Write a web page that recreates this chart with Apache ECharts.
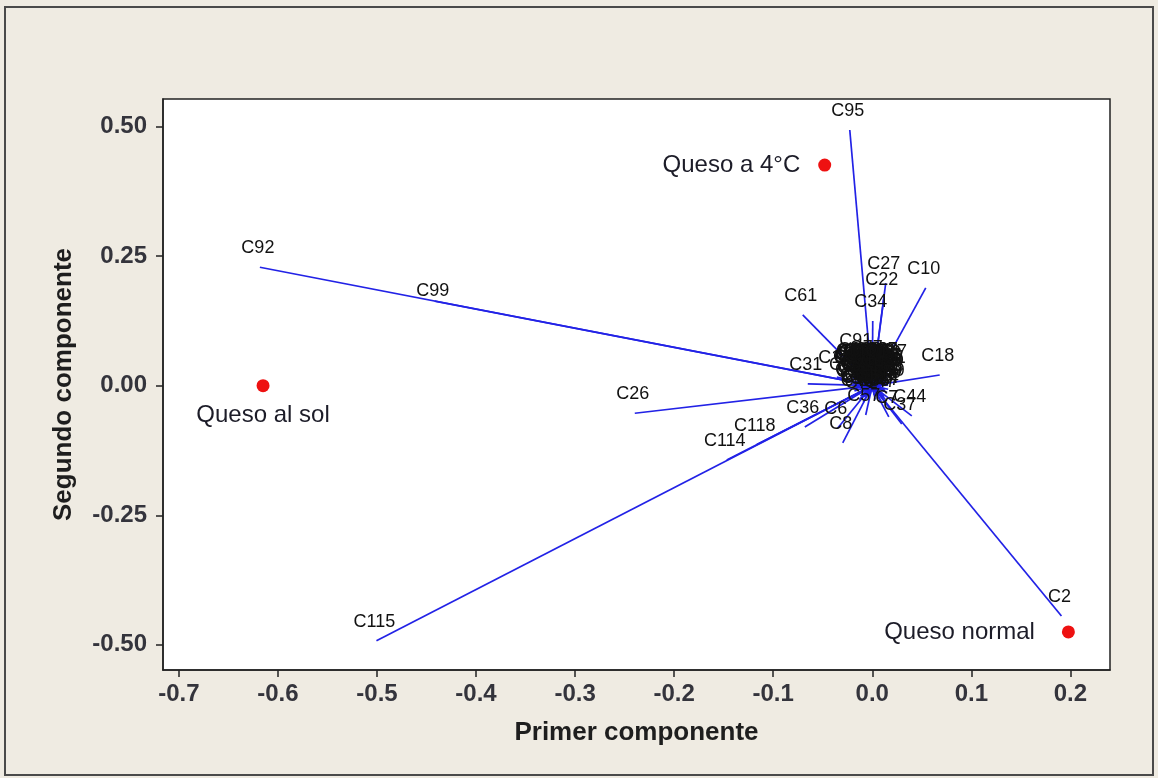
<!DOCTYPE html>
<html>
<head>
<meta charset="utf-8">
<script src="https://cdn.jsdelivr.net/npm/echarts@6/dist/echarts.min.js"></script>
<style>
  html, body { margin: 0; padding: 0; background: #efebe2; }
  #chart { width: 1158px; height: 778px; }
</style>
</head>
<body>
<div id="chart"></div>
<script>
// Loadings of each variable on the first (PC1) and second (PC2) component
const loadingNames = [
  'C95', 'C92', 'C99', 'C27', 'C22', 'C10', 'C34', 'C61', 'C18', 'C26',
  'C114', 'C118', 'C115', 'C36', 'C6', 'C8', 'C2', 'C31', 'C14', 'C91',
  'C57', 'C7', 'C37', 'C44',
  'C1', 'C3', 'C4', 'C5', 'C9', 'C11', 'C12', 'C13', 'C15', 'C16',
  'C17', 'C19', 'C20', 'C21', 'C23', 'C24', 'C25', 'C28', 'C29', 'C30',
  'C32', 'C33', 'C35', 'C38', 'C39', 'C40', 'C41', 'C42', 'C43', 'C45',
  'C46', 'C47', 'C48', 'C49', 'C50', 'C51', 'C52', 'C53', 'C54', 'C55',
  'C56', 'C58', 'C59', 'C60', 'C62', 'C63', 'C64', 'C65', 'C66', 'C67',
  'C68', 'C69', 'C70', 'C71', 'C72', 'C73', 'C74', 'C75', 'C76', 'C77',
  'C78', 'C79', 'C80', 'C81', 'C82', 'C83', 'C84', 'C85', 'C86', 'C87',
  'C88', 'C89', 'C90', 'C93', 'C94', 'C96', 'C97', 'C98', 'C100', 'C101',
  'C102', 'C103', 'C104', 'C105', 'C106', 'C107', 'C108', 'C109', 'C110', 'C111',
  'C112', 'C113', 'C116', 'C117', 'C119', 'C120'
];
const loadingPC1 = [
  -0.0227, -0.6182, -0.4417, 0.0136, 0.0116, 0.0540, 0.0005, -0.0702, 0.0681, -0.2397,
  -0.1469, -0.1166, -0.5005, -0.0681, -0.0348, -0.0298, 0.1910, -0.0651, -0.0358, -0.0146,
  -0.0066, 0.0167, 0.0298, 0.0399,
  -0.012, 0.004, -0.006, 0.010, -0.016, 0.002, 0.013, -0.009, 0.007, -0.019,
  0.015, -0.003, 0.009, -0.014, 0.001, 0.012, -0.008, 0.005, -0.017, 0.016,
  -0.004, 0.008, -0.011, 0.003, -0.020, 0.011, -0.006, 0.014, -0.013, 0.006,
  -0.002, 0.009, -0.018, 0.015, -0.007, 0.002, -0.015, 0.010, -0.010, 0.004,
  -0.001, 0.012, -0.016, 0.007, -0.005, 0.016, -0.012, 0.003, -0.008, 0.013,
  -0.003, 0.008, -0.019, 0.011, -0.009, 0.000, -0.014, 0.006, 0.014, -0.004,
  0.001, -0.011, 0.009, -0.017, 0.005, 0.012, -0.010, 0.006, -0.015, 0.011,
  -0.002, 0.015, -0.018, 0.003, -0.006, 0.009, -0.013, 0.007, -0.008, 0.014,
  -0.020, 0.001, -0.004, 0.010, -0.011, 0.005, -0.016, 0.013, -0.007, 0.002,
  -0.014, 0.008, -0.001, 0.016, -0.005, 0.012
];
const loadingPC2 = [
  0.4932, 0.2284, 0.1630, 0.1980, 0.1670, 0.1885, 0.1248, 0.1364, 0.0206, -0.0532,
  -0.1433, -0.1137, -0.4919, -0.0796, -0.0816, -0.1105, -0.4442, 0.0033, 0.0168, 0.0496,
  -0.0565, -0.0603, -0.0739, -0.0584,
  0.021, 0.012, -0.004, 0.028, 0.008, -0.018, 0.004, 0.030, -0.010, -0.006,
  0.019, 0.026, 0.015, -0.016, 0.033, -0.021, 0.011, 0.022, 0.027, -0.007,
  -0.024, 0.031, 0.002, -0.003, 0.016, 0.009, 0.018, 0.026, -0.027, 0.003,
  0.007, -0.030, 0.031, 0.012, -0.013, 0.017, 0.013, -0.015, 0.025, 0.029,
  -0.009, 0.023, 0.000, 0.008, 0.032, 0.001, -0.020, -0.027, 0.005, -0.026,
  0.014, 0.019, 0.022, -0.004, -0.032, 0.024, 0.006, -0.019, 0.010, 0.035,
  -0.012, 0.028, 0.000, -0.002, 0.014, 0.030, 0.015, -0.021, 0.029, 0.033,
  -0.015, -0.013, -0.010, 0.005, 0.027, 0.000, 0.006, 0.026, -0.022, 0.016,
  0.004, -0.006, 0.020, 0.021, 0.033, 0.013, 0.018, -0.009, 0.009, 0.030,
  0.024, -0.006, 0.002, 0.029, -0.018, 0.011
];

// Scores of the three cheese samples
const sampleNames = ['Queso a 4°C', 'Queso al sol', 'Queso normal'];
const samplePC1 = [-0.048, -0.615, 0.198];
const samplePC2 = [0.4255, 0.0, -0.475];

// Axis ticks
const xTicks = [-0.7, -0.6, -0.5, -0.4, -0.3, -0.2, -0.1, 0.0, 0.1, 0.2];
const yTicks = [-0.50, -0.25, 0.00, 0.25, 0.50];

const FONT = '"Liberation Sans", Arial, sans-serif';

// Where each sample's name sits relative to its dot
const sampleLabelPlacement = {
  'Queso a 4°C': { position: 'left', distance: 18 },
  'Queso al sol': { position: 'bottom', distance: 11 },
  'Queso normal': { position: 'left', distance: 27 }
};
// Default variable label offset (above the vector tip) and exceptions
const tipLabelOffset = [-2, -19];
const tipLabelOffsetOverride = { C99: [-2, -10] };

const loadingData = loadingNames.map((n, i) => [loadingPC1[i], loadingPC2[i], n]);
const sampleData = sampleNames.map((n, i) => ({ name: n, value: [samplePC1[i], samplePC2[i]], label: sampleLabelPlacement[n] }));

const chart = echarts.init(document.getElementById('chart'), null, { renderer: 'canvas' });

chart.setOption({
  backgroundColor: '#efebe2',
  animation: false,
  graphic: [{
    type: 'rect',
    shape: { x: 5, y: 7, width: 1148, height: 768 },
    style: { fill: 'none', stroke: '#4a4a4a', lineWidth: 2 },
    silent: true,
    z: -1
  }],
  grid: {
    left: 163, top: 99, width: 947, height: 571,
    show: true, backgroundColor: '#ffffff', borderColor: '#222222', borderWidth: 1.5
  },
  xAxis: {
    type: 'value', min: -0.716, max: 0.24,
    name: 'Primer componente', nameLocation: 'middle', nameGap: 50,
    nameTextStyle: { fontFamily: FONT, fontWeight: 'bold', fontSize: 26, color: '#1e1e1e' },
    axisLine: { show: true, onZero: false, lineStyle: { color: '#222222', width: 1.5 } },
    axisTick: { show: true, length: 7, customValues: xTicks, lineStyle: { color: '#222222', width: 1.5 } },
    axisLabel: {
      customValues: xTicks, margin: 12, fontFamily: FONT, fontSize: 24, fontWeight: 'bold', color: '#34343c',
      formatter: v => v.toFixed(1)
    },
    splitLine: { show: false }
  },
  yAxis: {
    type: 'value', min: -0.5485, max: 0.553,
    name: 'Segundo componente', nameLocation: 'middle', nameGap: 86, nameRotate: 90,
    nameTextStyle: { fontFamily: FONT, fontWeight: 'bold', fontSize: 26, color: '#1e1e1e' },
    axisLine: { show: true, onZero: false, lineStyle: { color: '#222222', width: 1.5 } },
    axisTick: { show: true, length: 7, customValues: yTicks, lineStyle: { color: '#222222', width: 1.5 } },
    axisLabel: {
      customValues: yTicks, margin: 16, fontFamily: FONT, fontSize: 24, fontWeight: 'bold', color: '#34343c',
      formatter: v => v.toFixed(2)
    },
    splitLine: { show: false }
  },
  series: [
    {
      // loading vectors from the origin
      type: 'custom',
      z: 2,
      data: loadingData,
      encode: { x: 0, y: 1 },
      renderItem: function (params, api) {
        const o = api.coord([0, 0]);
        const p = api.coord([api.value(0), api.value(1)]);
        return {
          type: 'line',
          shape: { x1: o[0], y1: o[1], x2: p[0], y2: p[1] },
          style: { stroke: '#2222e6', lineWidth: 1.7 }
        };
      }
    },
    {
      // variable names at the vector tips
      type: 'custom',
      z: 3,
      data: loadingData,
      encode: { x: 0, y: 1 },
      renderItem: function (params, api) {
        const p = api.coord([api.value(0), api.value(1)]);
        const name = loadingData[params.dataIndex][2];
        const off = tipLabelOffsetOverride[name] || tipLabelOffset;
        return {
          type: 'text',
          x: p[0] + off[0],
          y: p[1] + off[1],
          style: {
            text: name, fontFamily: FONT, fontSize: 18, fill: '#111111',
            align: 'center', verticalAlign: 'middle'
          }
        };
      }
    },
    {
      // sample scores
      type: 'scatter',
      z: 4,
      symbol: 'circle',
      symbolSize: 13,
      itemStyle: { color: '#ee1111', opacity: 1 },
      data: sampleData,
      label: {
        show: true,
        formatter: p => p.name,
        fontFamily: FONT, fontSize: 24, color: '#1c1c28', opacity: 1
      }
    }
  ]
});
</script>
</body>
</html>
